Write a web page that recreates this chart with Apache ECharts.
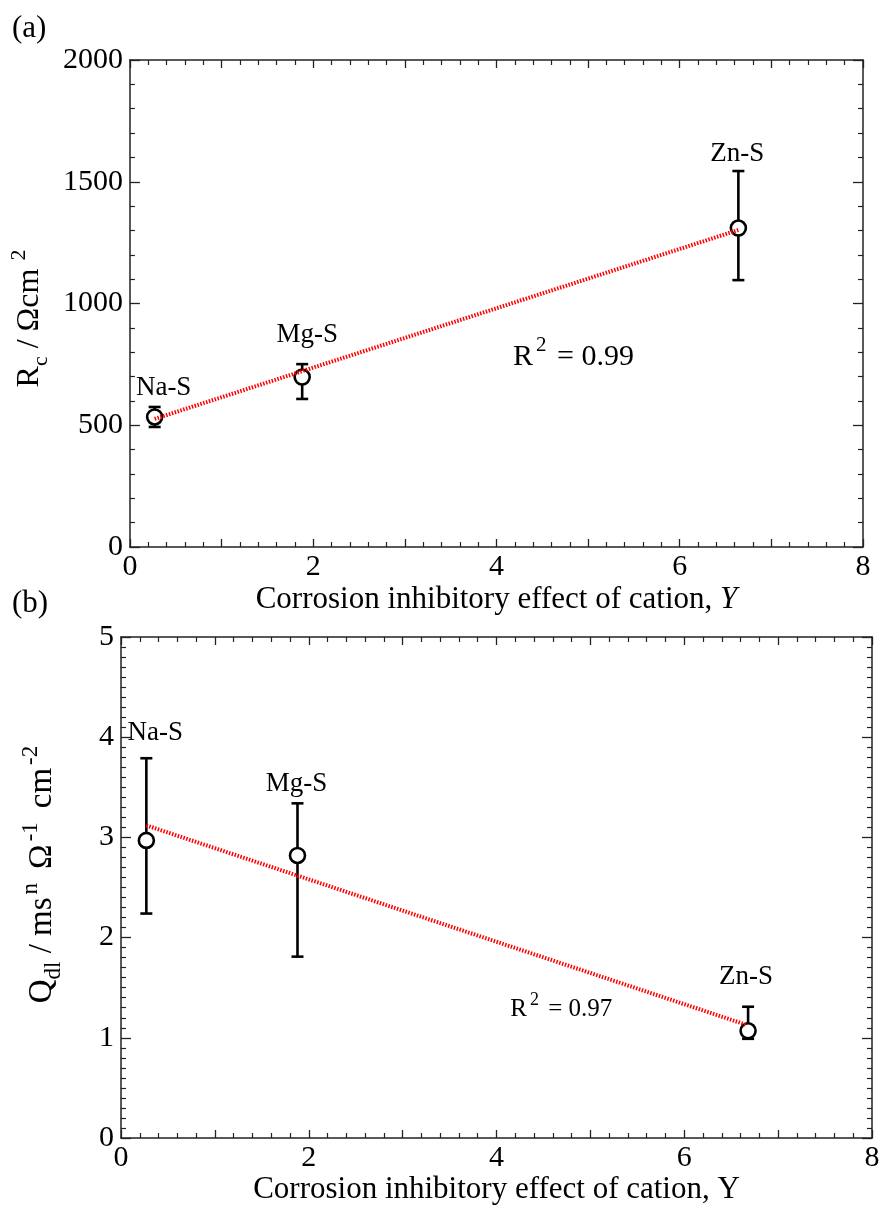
<!DOCTYPE html>
<html>
<head>
<meta charset="utf-8">
<script src="https://cdn.jsdelivr.net/npm/echarts@6/dist/echarts.min.js"></script>
<style>
html,body{margin:0;padding:0;background:#fff;}
#chart{width:885px;height:1215px;}
</style>
</head>
<body>
<div id="chart"></div>
<script>
// ---- data ----
const categories = ['Na-S', 'Mg-S', 'Zn-S'];
// panel (a)
const xA = [0.27, 1.88, 6.64];
const rcValue = [534, 698, 1310];
const rcLow = [493, 608, 1096];
const rcHigh = [575, 751, 1544];
const fitAx = [0.27, 6.64];
const fitAy = [526, 1302];
const r2A = '{t|R}{sup|2}{t| = 0.99}';
// panel (b)
const xB = [0.27, 1.88, 6.68];
const qValue = [2.97, 2.82, 1.07];
const qLow = [2.24, 1.81, 0.99];
const qHigh = [3.79, 3.34, 1.31];
const fitBx = [0.27, 6.66];
const fitBy = [3.12, 1.13];
const r2B = '{t|R}{sup|2}{t| = 0.97}';
// axis ticks
const xTicks = [0, 2, 4, 6, 8];

const FONT = 'Liberation Serif';
const AX = '#222';

// label offsets (style)
const offA = [[9, -29], [5, -42], [-1, -74]];
const offB = [[9, -107], [-1, -72], [-2, -54]];
const r2Apos = [4.84, 780];
const r2Bpos = [4.69, 1.28];

function xAxisCfg(grid, pos, showLabel) {
  return {
    type: 'value', gridIndex: grid, position: pos, min: 0, max: 8, interval: 1,
    axisLine: {show: true, onZero: false, lineStyle: {color: AX, width: 1.5}},
    axisTick: {show: true, inside: true, length: 8, lineStyle: {color: AX, width: 1.3}},
    minorTick: {show: true, splitNumber: 5, length: 5, lineStyle: {color: AX, width: 1.2}},
    splitLine: {show: false}, minorSplitLine: {show: false},
    axisLabel: {show: showLabel, fontFamily: FONT, fontSize: 30, color: '#000', margin: 5,
      formatter: v => xTicks.indexOf(v) >= 0 ? String(v) : ''}
  };
}
function yAxisCfg(grid, pos, max, interval, split, showLabel) {
  return {
    type: 'value', gridIndex: grid, position: pos, min: 0, max: max, interval: interval,
    axisLine: {show: true, onZero: false, lineStyle: {color: AX, width: 1.5}},
    axisTick: {show: true, inside: true, length: 10, lineStyle: {color: AX, width: 1.3}},
    minorTick: {show: true, splitNumber: split, length: 5, lineStyle: {color: AX, width: 1.2}},
    splitLine: {show: false}, minorSplitLine: {show: false},
    axisLabel: {show: showLabel, fontFamily: FONT, fontSize: 30, color: '#000', margin: 7,
      formatter: v => String(v)}
  };
}

const richX = {
  m: {fontFamily: FONT, fontSize: 31, color: '#000', lineHeight: 44},
  i: {fontFamily: FONT, fontSize: 31, color: '#000', fontStyle: 'italic', lineHeight: 44}
};
const richYA = {
  m: {fontFamily: FONT, fontSize: 32, color: '#000', lineHeight: 44},
  sub: {fontFamily: FONT, fontSize: 22, color: '#000', verticalAlign: 'bottom', lineHeight: 34},
  sup: {fontFamily: FONT, fontSize: 22, color: '#000', verticalAlign: 'top', lineHeight: 32, padding: [0, 30, 0, 8]}
};
const richYB = {
  q: {fontFamily: FONT, fontSize: 33, color: '#000', lineHeight: 46, padding: [0, 0, 0, 40]},
  m: {fontFamily: FONT, fontSize: 33, color: '#000', lineHeight: 46},
  sub: {fontFamily: FONT, fontSize: 23, color: '#000', verticalAlign: 'bottom', lineHeight: 36},
  sup: {fontFamily: FONT, fontSize: 23, color: '#000', verticalAlign: 'top', lineHeight: 33, padding: [0, 14, 0, 3]}
};

function errorSeries(xIdx, yIdx, xs, lo, hi) {
  return {
    type: 'custom', xAxisIndex: xIdx, yAxisIndex: yIdx, z: 2,
    data: xs.map((x, i) => [x, lo[i], hi[i]]),
    encode: {x: 0, y: [1, 2]},
    renderItem: function (params, api) {
      const x = api.value(0);
      const p1 = api.coord([x, api.value(1)]);
      const p2 = api.coord([x, api.value(2)]);
      const w = 6;
      const st = {stroke: '#000', lineWidth: 2.6};
      return {type: 'group', children: [
        {type: 'line', shape: {x1: p1[0], y1: p1[1], x2: p2[0], y2: p2[1]}, style: st},
        {type: 'line', shape: {x1: p1[0] - w, y1: p1[1], x2: p1[0] + w, y2: p1[1]}, style: st},
        {type: 'line', shape: {x1: p2[0] - w, y1: p2[1], x2: p2[0] + w, y2: p2[1]}, style: st}
      ]};
    }
  };
}
function pointSeries(xIdx, yIdx, xs, ys, offs) {
  return {
    type: 'scatter', xAxisIndex: xIdx, yAxisIndex: yIdx, z: 3,
    symbol: 'circle', symbolSize: 15,
    itemStyle: {color: '#fff', borderColor: '#000', borderWidth: 2.6, opacity: 1},
    data: xs.map((x, i) => ({
      value: [x, ys[i]], name: categories[i],
      label: {show: true, position: 'inside', offset: offs[i], formatter: categories[i],
        fontFamily: FONT, fontSize: 27, color: '#000'}
    }))
  };
}
function fitSeries(xIdx, yIdx, fx, fy) {
  return {
    type: 'line', xAxisIndex: xIdx, yAxisIndex: yIdx, z: 4, symbol: 'none',
    lineStyle: {color: '#ff0000', width: 4, type: [1.5, 1.5]},
    data: fx.map((x, i) => [x, fy[i]])
  };
}
function textSeries(xIdx, yIdx, pos, text, size) {
  return {
    type: 'scatter', xAxisIndex: xIdx, yAxisIndex: yIdx, symbolSize: 0, z: 5,
    itemStyle: {opacity: 1},
    data: [{value: pos}],
    label: {show: true, position: 'inside', formatter: text, color: '#000',
      rich: {
        t: {fontFamily: FONT, fontSize: size, color: '#000', lineHeight: size * 1.5},
        sup: {fontFamily: FONT, fontSize: Math.round(size * 0.7), color: '#000', verticalAlign: 'top', lineHeight: size * 1.1, padding: [0, 3, 0, 3]}
      }
    }
  };
}

const chart = echarts.init(document.getElementById('chart'), null, {renderer: 'canvas'});
const option = {
  animation: false,
  backgroundColor: '#fff',
  grid: [
    {left: 129, right: 22, top: 60, height: 487},
    {left: 121, right: 13, top: 637, height: 501}
  ],
  xAxis: [
    Object.assign(xAxisCfg(0, 'bottom', true), {
      name: '{m|Corrosion inhibitory effect of cation, }{i|Y}', nameLocation: 'middle', nameGap: 31,
      nameTextStyle: {rich: richX}
    }),
    xAxisCfg(0, 'top', false),
    Object.assign(xAxisCfg(1, 'bottom', true), {
      name: '{m|Corrosion inhibitory effect of cation, Y}', nameLocation: 'middle', nameGap: 28,
      nameTextStyle: {rich: richX}
    }),
    xAxisCfg(1, 'top', false)
  ],
  yAxis: [
    Object.assign(yAxisCfg(0, 'left', 2000, 500, 5, true), {
      name: '{m|R}{sub|c}{m| / Ωcm}{sup|2}', nameLocation: 'middle', nameGap: 66,
      nameTextStyle: {rich: richYA}
    }),
    yAxisCfg(0, 'right', 2000, 500, 5, false),
    Object.assign(yAxisCfg(1, 'left', 5, 1, 10, true), {
      name: '{q|Q}{sub|dl}{m| / ms}{sup|n}{m|Ω}{sup|-1}{m|cm}{sup|-2}', nameLocation: 'middle', nameGap: 56,
      nameTextStyle: {rich: richYB}
    }),
    yAxisCfg(1, 'right', 5, 1, 10, false)
  ],
  graphic: [
    {type: 'text', left: 12, top: 13, style: {text: '(a)', font: '31px "Liberation Serif"', fill: '#000'}},
    {type: 'text', left: 12, top: 588, style: {text: '(b)', font: '31px "Liberation Serif"', fill: '#000'}}
  ],
  series: [
    errorSeries(0, 0, xA, rcLow, rcHigh),
    pointSeries(0, 0, xA, rcValue, offA),
    fitSeries(0, 0, fitAx, fitAy),
    textSeries(0, 0, r2Apos, r2A, 30),
    errorSeries(2, 2, xB, qLow, qHigh),
    pointSeries(2, 2, xB, qValue, offB),
    fitSeries(2, 2, fitBx, fitBy),
    textSeries(2, 2, r2Bpos, r2B, 25)
  ]
};
chart.setOption(option);
</script>
</body>
</html>
